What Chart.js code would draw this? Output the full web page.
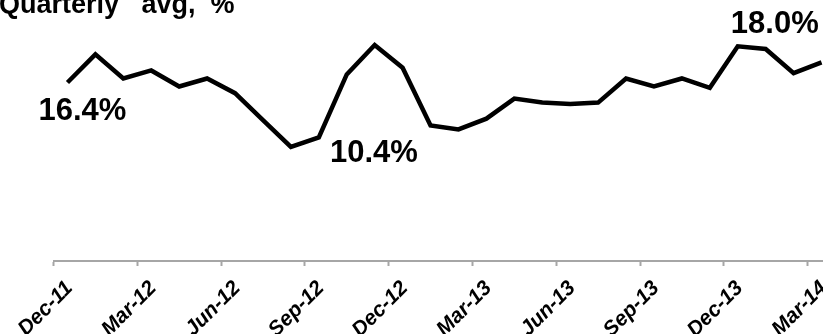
<!DOCTYPE html>
<html>
<head>
<meta charset="utf-8">
<script src="https://cdn.jsdelivr.net/npm/chart.js@4.4.1/dist/chart.umd.min.js"></script>
<style>
  html, body { margin: 0; padding: 0; background: #fff; overflow: hidden; }
  #wrap { position: relative; width: 860px; height: 334px; }
</style>
</head>
<body>
<div id="wrap"><canvas id="rateChart"></canvas></div>
<script>
// Monthly values, Dec-11 .. Mar-14
const months = ['Dec-11', 'Jan-12', 'Feb-12', 'Mar-12', 'Apr-12', 'May-12', 'Jun-12',
    'Jul-12', 'Aug-12', 'Sep-12', 'Oct-12', 'Nov-12', 'Dec-12', 'Jan-13', 'Feb-13',
    'Mar-13', 'Apr-13', 'May-13', 'Jun-13', 'Jul-13', 'Aug-13', 'Sep-13', 'Oct-13',
    'Nov-13', 'Dec-13', 'Jan-14', 'Feb-14', 'Mar-14'];
const rates = [15.2, 17.3, 15.5, 16.1, 14.9, 15.5, 14.4, 12.4, 10.4, 11.1, 15.8, 18.0,
    16.3, 12.0, 11.7, 12.5, 14.0, 13.7, 13.6, 13.7, 15.5, 14.9, 15.5, 14.8, 17.9, 17.7,
    15.9, 16.7];

// Callout texts and the month they sit next to
const calloutTexts = ['16.4%', '10.4%', '18.0%'];
const calloutMonths = ['Dec-11', 'Aug-12', 'Dec-13'];

const titleText = 'Quarterly   avg,  %';

// offsets of the callouts from their point, in pixels
const calloutOffsets = [[15, 29], [83, 7], [37, -22]];

const overlayPlugin = {
    id: 'overlay',
    afterDatasetsDraw(chart) {
        const ctx = chart.ctx;
        const x = chart.scales.x;
        const y = chart.scales.y;
        ctx.save();
        ctx.fillStyle = '#000';

        // title (top is cut off like the original)
        ctx.font = 'bold 27px "Liberation Sans", Arial, sans-serif';
        ctx.textAlign = 'left';
        ctx.textBaseline = 'alphabetic';
        ctx.fillText(titleText, -1, 13);

        ctx.font = 'bold 31px "Liberation Sans", Arial, sans-serif';
        ctx.textAlign = 'center';
        ctx.textBaseline = 'middle';
        calloutTexts.forEach((txt, i) => {
            const idx = months.indexOf(calloutMonths[i]);
            const px = x.getPixelForValue(idx) + calloutOffsets[i][0];
            const py = y.getPixelForValue(rates[idx]) + calloutOffsets[i][1];
            ctx.fillText(txt, px, py);
        });
        ctx.restore();
    }
};

const axisGrey = '#a6a6a6';

new Chart(document.getElementById('rateChart'), {
    type: 'line',
    data: {
        labels: months,
        datasets: [{
            data: rates,
            borderColor: '#000',
            borderWidth: 4.5,
            borderJoinStyle: 'miter',
            pointRadius: 0,
            tension: 0,
            fill: false
        }]
    },
    options: {
        responsive: true,
        maintainAspectRatio: false,
        animation: false,
        layout: { padding: { left: 53.5, right: 24.5, top: 12, bottom: 0 } },
        plugins: {
            legend: { display: false },
            tooltip: { enabled: false }
        },
        scales: {
            x: {
                offset: true,
                grid: {
                    offset: true,
                    drawOnChartArea: false,
                    tickLength: 5,
                    tickWidth: 2,
                    tickColor: (c) => (c.index !== undefined && c.index % 3 === 0) ? axisGrey : 'rgba(0,0,0,0)'
                },
                border: { color: axisGrey, width: 2 },
                ticks: {
                    autoSkip: false,
                    maxRotation: 45,
                    minRotation: 45,
                    padding: 10,
                    labelOffset: 2,
                    color: '#000',
                    font: { family: '"Liberation Sans", Arial, sans-serif', size: 21, style: 'italic', weight: 'bold' },
                    callback: function (val, i) {
                        return i % 3 === 0 ? this.getLabelForValue(val) : '';
                    }
                },
                afterFit: (scale) => { scale.height = 73; }
            },
            y: {
                display: false,
                min: 1.88,
                max: 20.46
            }
        }
    },
    plugins: [overlayPlugin]
});
</script>
</body>
</html>
